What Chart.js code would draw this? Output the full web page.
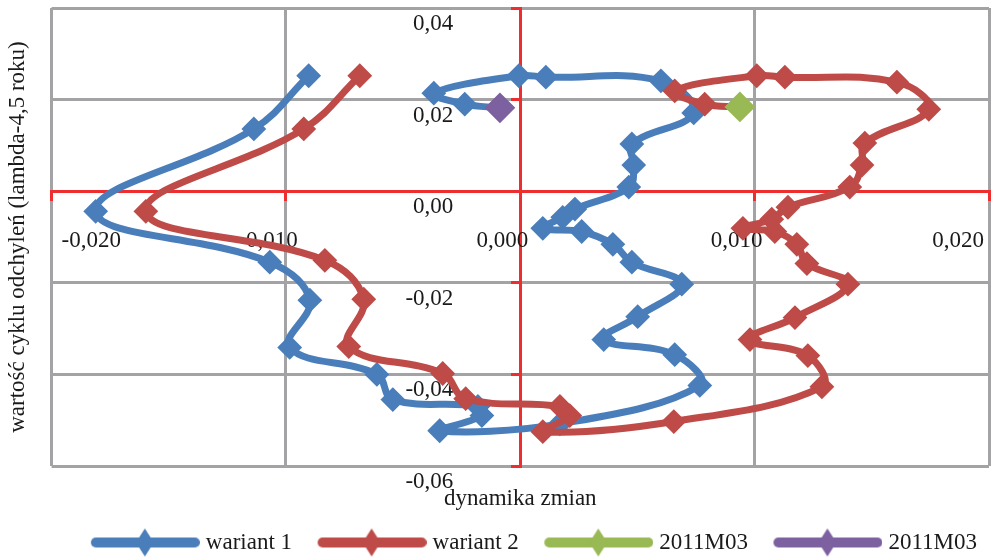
<!DOCTYPE html>
<html>
<head>
<meta charset="utf-8">
<script src="https://cdn.jsdelivr.net/npm/chart.js@4.4.1/dist/chart.umd.min.js"></script>
<style>
  html, body { margin: 0; padding: 0; background: #fff; }
  #wrap { width: 995px; height: 558px; }
</style>
</head>
<body>
<div id="wrap"><canvas id="cycleChart"></canvas></div>
<script>
// wariant 1 (dynamika zmian / wartość cyklu)
const wariant1X = [-0.00903, -0.01137, -0.01812, -0.01069, -0.00898, -0.00984, -0.00612, -0.00544, -0.00181, -0.00164,
  -0.00344, 0.00169, 0.00766, 0.00659, 0.00356, 0.00501, 0.00689, 0.00476, 0.00395, 0.00262,
  0.00096, 0.00181, 0.00233, 0.00463, 0.00484, 0.00476, 0.00740, 0.00600, 0.00109, -0.00006,
  -0.00369, -0.00237, -0.00087];
const wariant1Y = [0.0252, 0.0136, -0.0044, -0.0155, -0.0238, -0.0341, -0.0400, -0.0455, -0.0470, -0.0490,
  -0.0523, -0.0508, -0.0424, -0.0357, -0.0324, -0.0274, -0.0203, -0.0155, -0.0116, -0.0088,
  -0.0081, -0.0057, -0.0039, 0.0009, 0.0057, 0.0103, 0.0171, 0.0241, 0.0249, 0.0252,
  0.0214, 0.0190, 0.0182];

// wariant 2
const wariant2X = [-0.00685, -0.00924, -0.01598, -0.00834, -0.00668, -0.00732, -0.00331, -0.00233, 0.00169, 0.00211,
  0.00096, 0.00655, 0.01287, 0.01227, 0.00980, 0.01172, 0.01398, 0.01223, 0.01180, 0.01086,
  0.00950, 0.01073, 0.01142, 0.01406, 0.01458, 0.01470, 0.01743, 0.01607, 0.01129, 0.01009,
  0.00659, 0.00787, 0.00937];
const wariant2Y = [0.0252, 0.0136, -0.0044, -0.0151, -0.0236, -0.0339, -0.0398, -0.0453, -0.0470, -0.0490,
  -0.0525, -0.0503, -0.0427, -0.0359, -0.0324, -0.0276, -0.0203, -0.0158, -0.0116, -0.0088,
  -0.0081, -0.0061, -0.0035, 0.0009, 0.0057, 0.0105, 0.0179, 0.0238, 0.0249, 0.0252,
  0.0219, 0.0190, 0.0184];

// ostatni punkt (2011M03) dla obu wariantów
const lastW2 = [0.00937, 0.0184];
const lastW1 = [-0.00087, 0.0182];

// osie
const xTicks = [-0.02, -0.01, 0, 0.01, 0.02];
const xTickLabels = ['-0,020', '-0,010', '0,000', '0,010', '0,020'];
const yTicks = [0.04, 0.02, 0, -0.02, -0.04, -0.06];
const yTickLabels = ['0,04', '0,02', '0,00', '-0,02', '-0,04', '-0,06'];

const FONT = "'Liberation Serif', 'DejaVu Serif', serif";
const FS = 23;
const TEXT = '#1a1a1a';
const blue = '#4A7EBB';
const red = '#BE4B48';
const green = '#98B954';
const purple = '#7D60A0';
const gridGray = '#A3A3A6';
const axisRed = '#EE2E2E';

Chart.defaults.font.family = FONT;

function toPoints(xs, ys) {
  return xs.map((x, i) => ({ x: x, y: ys[i] }));
}

// ikonka legendy: linia + romb
function legendIcon(color) {
  const c = document.createElement('canvas');
  c.width = 128; c.height = 30;
  const g = c.getContext('2d');
  g.strokeStyle = color;
  g.lineWidth = 10;
  g.lineCap = 'round';
  g.beginPath(); g.moveTo(24, 15); g.lineTo(123, 15); g.stroke();
  g.fillStyle = color;
  g.beginPath();
  g.moveTo(73, 1); g.lineTo(82, 15); g.lineTo(73, 29); g.lineTo(64, 15);
  g.closePath(); g.fill();
  return c;
}
const legendIcons = [legendIcon(blue), legendIcon(red), legendIcon(green), legendIcon(purple)];

// etykiety osi rysowane przy osiach w środku wykresu
const tickLabels = {
  id: 'tickLabels',
  beforeDatasetsDraw(chart) {
    const { ctx, chartArea, scales: { x, y } } = chart;
    ctx.save();
    ctx.font = FS + 'px ' + FONT;
    ctx.fillStyle = TEXT;
    ctx.textBaseline = 'middle';
    ctx.textAlign = 'center';
    const y0 = y.getPixelForValue(0);
    xTicks.forEach((v, i) => {
      const w = ctx.measureText(xTickLabels[i]).width;
      let cx = x.getPixelForValue(v) - 18;
      cx = Math.max(cx, chartArea.left + 10 + w / 2);
      cx = Math.min(cx, chartArea.right - 5 - w / 2);
      ctx.fillText(xTickLabels[i], cx, y0 + 50);
    });
    ctx.textAlign = 'right';
    const x0 = x.getPixelForValue(0);
    yTicks.forEach((v, i) => {
      ctx.fillText(yTickLabels[i], x0 - 67, y.getPixelForValue(v) + 16);
    });
    ctx.restore();
  }
};

const lineStyle = {
  showLine: true,
  borderWidth: 7,
  tension: 0.4,
  pointStyle: 'rectRot',
  pointRadius: 11,
  pointHoverRadius: 11,
  pointBorderWidth: 2
};

const ctx = document.getElementById('cycleChart').getContext('2d');
new Chart(ctx, {
  type: 'scatter',
  data: {
    datasets: [
      { ...lineStyle, label: 'wariant 1', data: toPoints(wariant1X, wariant1Y),
        borderColor: blue, backgroundColor: blue, order: 3 },
      { ...lineStyle, label: 'wariant 2', data: toPoints(wariant2X, wariant2Y),
        borderColor: red, backgroundColor: red, order: 2 },
      { label: '2011M03', data: [{ x: lastW2[0], y: lastW2[1] }], pointStyle: 'rectRot',
        pointRadius: 14, pointBorderWidth: 2, borderColor: green, backgroundColor: green, order: 1 },
      { label: '2011M03', data: [{ x: lastW1[0], y: lastW1[1] }], pointStyle: 'rectRot',
        pointRadius: 14, pointBorderWidth: 2, borderColor: purple, backgroundColor: purple, order: 0 }
    ]
  },
  options: {
    responsive: true,
    maintainAspectRatio: false,
    animation: false,
    layout: { autoPadding: false, padding: { left: 0, right: 6, top: 8, bottom: -6 } },
    scales: {
      x: {
        type: 'linear', min: -0.02, max: 0.02,
        position: { y: 0 },
        ticks: { display: false, stepSize: 0.01 },
        grid: { color: gridGray, lineWidth: 3, tickColor: axisRed, tickLength: 8, tickWidth: 3 },
        border: { color: axisRed, width: 3 }
      },
      y: {
        type: 'linear', min: -0.06, max: 0.04,
        position: { x: 0 },
        ticks: { display: false, stepSize: 0.02 },
        grid: { color: gridGray, lineWidth: 3, tickColor: axisRed, tickLength: 8, tickWidth: 3 },
        border: { color: axisRed, width: 3 }
      }
    },
    plugins: {
      tooltip: { enabled: false },
      title: {
        display: true, position: 'left', fullSize: false,
        text: 'wartość cyklu odchyleń (lambda-4,5 roku)',
        color: TEXT, font: { size: FS, weight: 'normal' },
        padding: { top: 4, bottom: 20 }
      },
      subtitle: {
        display: true, position: 'bottom', fullSize: false, weight: 500,
        text: 'dynamika zmian',
        color: TEXT, font: { size: FS, weight: 'normal', lineHeight: 1 },
        padding: { top: 21.5, bottom: 8.5 }
      },
      legend: {
        position: 'bottom', align: 'end',
        labels: {
          usePointStyle: true, pointStyleWidth: 117, padding: 12,
          color: TEXT, font: { size: FS },
          generateLabels(chart) {
            return chart.data.datasets.map((ds, i) => ({
              text: ds.label, pointStyle: legendIcons[i], datasetIndex: i,
              hidden: false, lineWidth: 0, fontColor: TEXT,
              fillStyle: 'transparent', strokeStyle: 'transparent', rotation: 0
            }));
          }
        }
      }
    }
  },
  plugins: [tickLabels]
});
</script>
</body>
</html>
